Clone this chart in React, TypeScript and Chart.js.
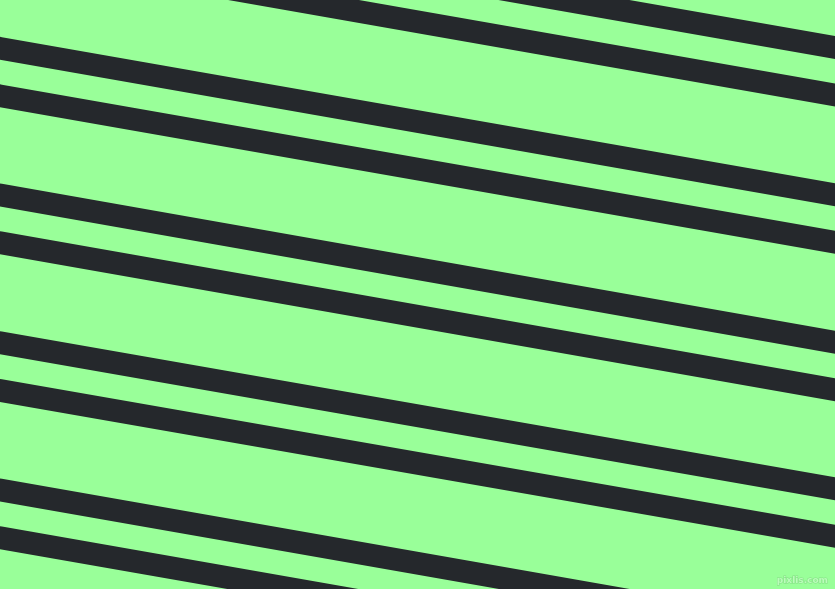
import React, { useEffect, useRef } from 'react';
import { Chart, registerables } from 'chart.js';

Chart.register(...registerables);

// y of each stripe centre at the left edge (x = 0) and at the right edge (x = 835)
const stripeLeftY = [-98.8, -51.5, 48.3, 95.8, 195, 242.7, 342.7, 390.5, 490, 537.7];
const stripeRightY = [47.5, 95, 194.7, 242.3, 342.3, 389.7, 488.7, 536.3, 636.5, 684];
const xEnds = [0, 835];

const W = 835;
const H = 589;

const backdrop = {
    id: 'backdrop',
    beforeDraw(chart: Chart) {
        const { ctx } = chart;
        ctx.save();
        ctx.fillStyle = '#99ff99';
        ctx.fillRect(0, 0, chart.width, chart.height);
        ctx.restore();
    },
    afterDraw(chart: Chart) {
        const { ctx } = chart;
        ctx.save();
        ctx.font = 'bold 9px "DejaVu Sans", sans-serif';
        ctx.textAlign = 'right';
        ctx.textBaseline = 'alphabetic';
        ctx.fillStyle = 'rgba(190,255,190,0.9)';
        ctx.strokeStyle = 'rgba(120,200,120,0.6)';
        ctx.lineWidth = 1;
        ctx.strokeText('pixlis.com', 828, 583);
        ctx.fillText('pixlis.com', 828, 583);
        ctx.restore();
    },
};

const App: React.FC = () => {
    const chartRef = useRef<HTMLCanvasElement>(null);

    useEffect(() => {
        document.body.style.margin = '0';
        const ctx = chartRef.current?.getContext('2d');
        if (!ctx) return;
        const chart = new Chart(ctx, {
            type: 'line',
            data: {
                datasets: stripeLeftY.map((y0, i) => ({
                    label: 'stripe ' + (i + 1),
                    data: [
                        { x: xEnds[0], y: y0 },
                        { x: xEnds[1], y: stripeRightY[i] },
                    ],
                    borderColor: '#25282c',
                    borderWidth: 22.6,
                    borderCapStyle: 'square' as const,
                    pointRadius: 0,
                    fill: false,
                    tension: 0,
                    clip: false as const,
                })),
            },
            options: {
                animation: false,
                responsive: false,
                events: [],
                layout: { padding: 0 },
                plugins: {
                    legend: { display: false },
                    tooltip: { enabled: false },
                },
                scales: {
                    x: { type: 'linear', min: 0, max: W, display: false },
                    y: { type: 'linear', min: 0, max: H, reverse: true, display: false },
                },
            },
            plugins: [backdrop],
        });
        return () => chart.destroy();
    }, []);

    return (
        <div style={{ position: 'fixed', left: 0, top: 0, width: W, height: H }}>
            <canvas ref={chartRef} width={W} height={H} style={{ display: 'block', width: W, height: H }}></canvas>
        </div>
    );
};

export default App;
